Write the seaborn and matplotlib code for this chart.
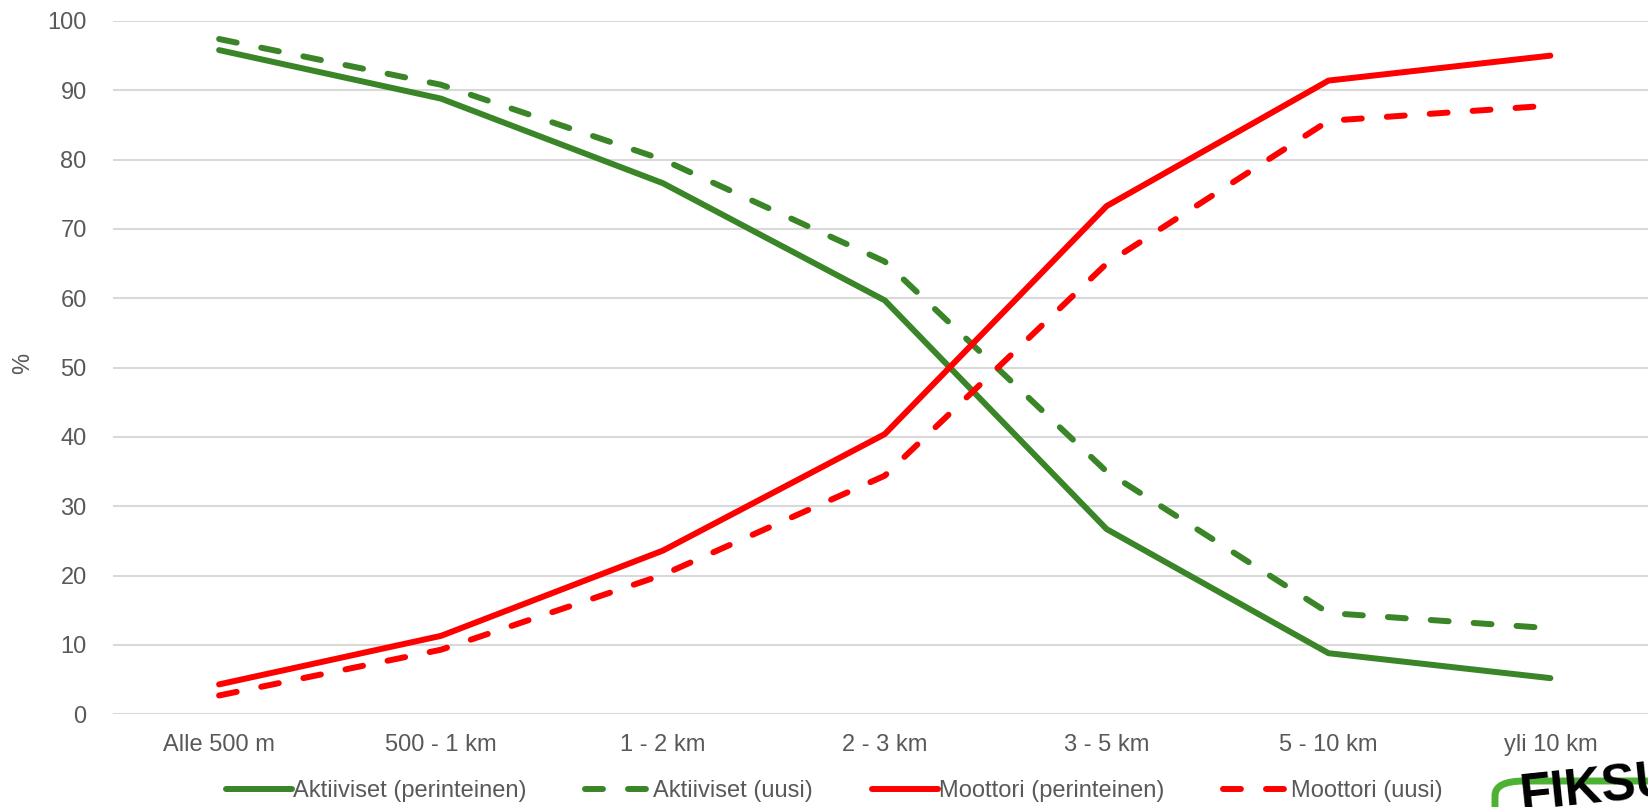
import matplotlib
matplotlib.use("Agg")
import matplotlib.pyplot as plt
import numpy as np
import pandas as pd
import seaborn as sb
from matplotlib.patches import FancyBboxPatch

# distance classes
categories = ["Alle 500 m", "500 - 1 km", "1 - 2 km", "2 - 3 km", "3 - 5 km", "5 - 10 km", "yli 10 km"]

aktiiviset_perinteinen = [95.8, 88.8, 76.6, 59.7, 26.7, 8.8, 5.2]
aktiiviset_uusi = [97.4, 90.8, 80.0, 65.3, 35.0, 14.6, 12.4]
moottori_perinteinen = [4.3, 11.3, 23.6, 40.4, 73.3, 91.4, 95.0]
moottori_uusi = [2.7, 9.3, 20.1, 34.4, 65.0, 85.6, 87.8]

series_names = ["Aktiiviset (perinteinen)", "Aktiiviset (uusi)",
                "Moottori (perinteinen)", "Moottori (uusi)"]
series_values = [aktiiviset_perinteinen, aktiiviset_uusi, moottori_perinteinen, moottori_uusi]

green = "#3A8527"
red = "#FF0000"
grey = "#595959"

rows = []
for name, vals in zip(series_names, series_values):
    for c, v in zip(categories, vals):
        rows.append({"Matka": c, "Osuus": v, "Sarja": name})
df = pd.DataFrame(rows)

sb.set_theme(style="white")
plt.rcParams["font.family"] = ["Liberation Sans", "DejaVu Sans"]
plt.rcParams["lines.solid_capstyle"] = "round"
plt.rcParams["lines.dash_capstyle"] = "round"

fig = plt.figure(figsize=(16.48, 8.07), dpi=100)
ax = fig.add_axes([0.0686, 0.115, 0.9314, 0.859])

palette = {series_names[0]: green, series_names[1]: green,
           series_names[2]: red, series_names[3]: red}
dashes = {series_names[0]: "", series_names[1]: (3.0, 4.2),
          series_names[2]: "", series_names[3]: (3.0, 4.2)}

sb.lineplot(data=df, x="Matka", y="Osuus", hue="Sarja", style="Sarja",
            palette=palette, dashes=dashes, linewidth=4.3, legend=False,
            sort=False, ax=ax, zorder=3)

ax.set_ylim(0, 100)
ax.set_xlim(-0.478, 6.44)
ax.set_yticks(np.arange(0, 101, 10))
ax.yaxis.grid(True, color="#D9D9D9", linewidth=1.5)
ax.xaxis.grid(False)
for s in ax.spines.values():
    s.set_visible(False)
ax.tick_params(axis="both", length=0, labelsize=17, labelcolor=grey)
ax.tick_params(axis="x", pad=14)
ax.tick_params(axis="y", pad=19)
ax.set_xlabel("")
ax.set_ylabel("")
fig.text(0.014, 0.55, "%", rotation=90, fontsize=17,
         color=grey, ha="center", va="center")

handles = ax.get_lines()[:4]
leg = fig.legend(handles, series_names, loc="center",
                 bbox_to_anchor=(0.506, 1 - 791 / 807), ncol=4, frameon=False,
                 fontsize=17, handlelength=2.8, handletextpad=0.05,
                 columnspacing=2.5, labelcolor=grey)

# partially visible logo in the corner
logo = FancyBboxPatch((1495 / 1648, (807 - 781) / 807 - 0.09), 0.12, 0.09,
                      boxstyle="round,pad=0,rounding_size=0.018",
                      transform=fig.transFigure, fill=False,
                      edgecolor="#4DB233", linewidth=5, clip_on=False)
fig.patches.append(logo)
fig.text(1518 / 1648, 1 - 757 / 807, "FIKSU", fontsize=37, fontweight="black",
         color="black", ha="left", va="top", rotation=6)

fig.savefig("out.png", dpi=100)
